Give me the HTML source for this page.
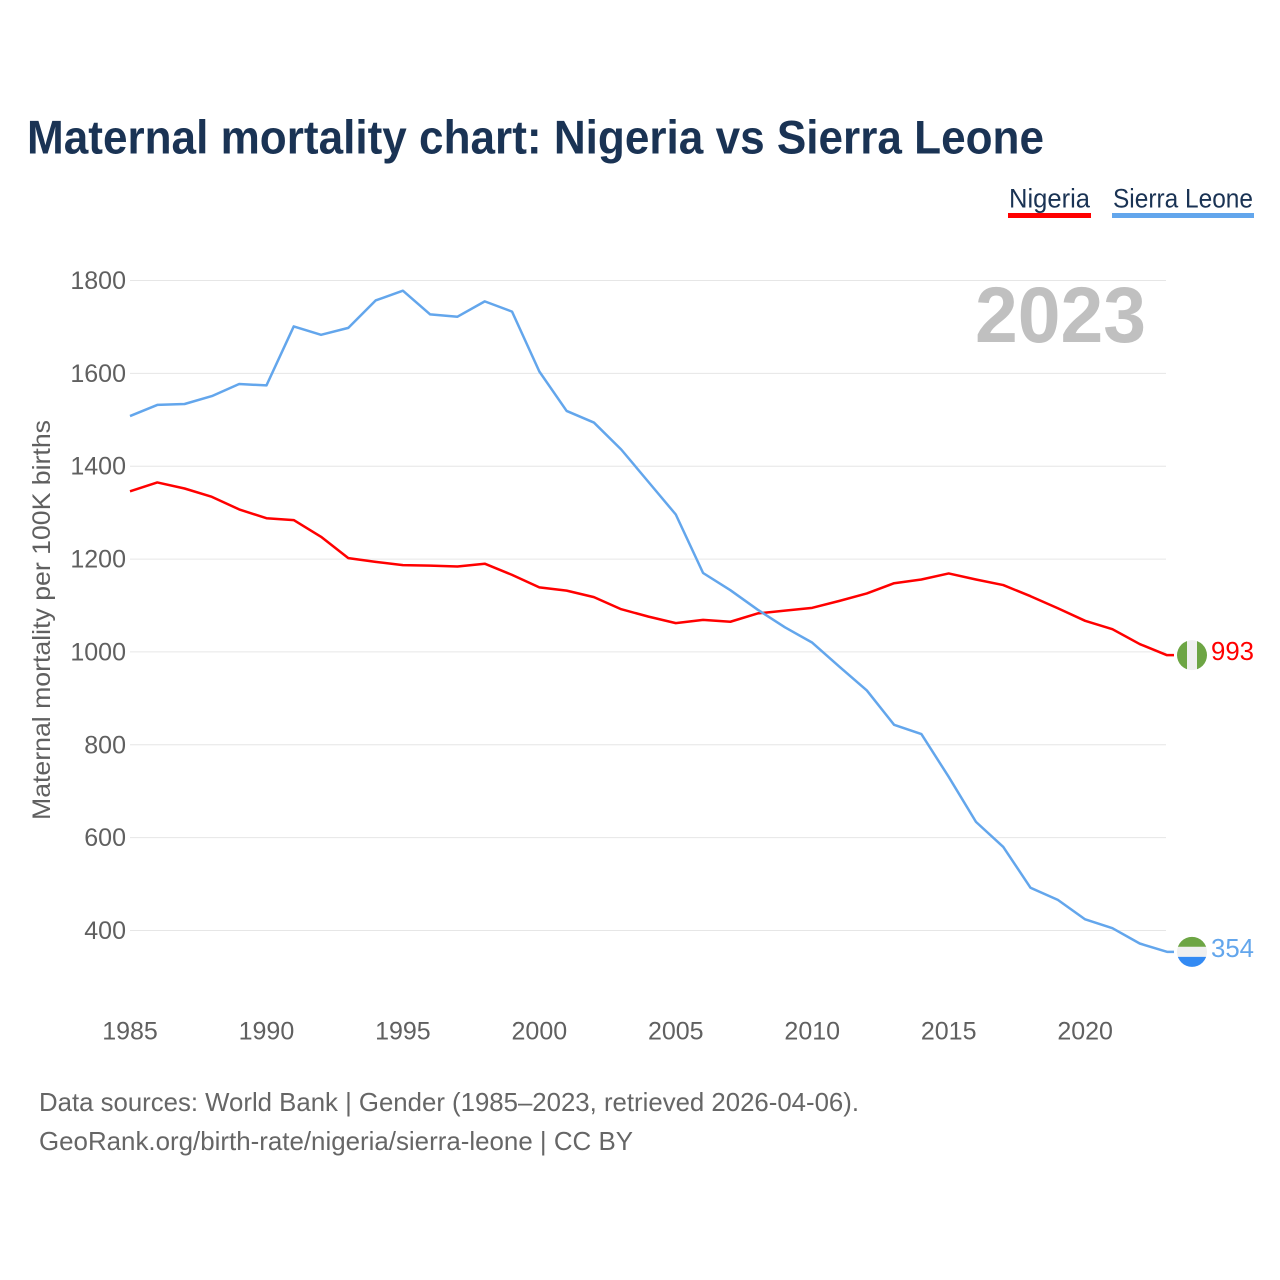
<!DOCTYPE html>
<html lang="en">
<head>
<meta charset="utf-8">
<title>Maternal mortality chart: Nigeria vs Sierra Leone</title>
<style>
html,body{margin:0;padding:0;background:#fff;}
svg{display:block;font-family:"Liberation Sans",sans-serif;}
</style>
</head>
<body>
<svg id="chart" xmlns="http://www.w3.org/2000/svg" width="1280" height="1280" viewBox="0 0 1280 1280">
  <rect x="0" y="0" width="1280" height="1280" fill="#ffffff"/>
  <text x="27" y="153.5" font-size="47" font-weight="700" fill="#1a3354" textLength="1017" lengthAdjust="spacingAndGlyphs">Maternal mortality chart: Nigeria vs Sierra Leone</text>

  <g>
    <text x="1009" y="207.5" font-size="27" fill="#1a3354" textLength="81" lengthAdjust="spacingAndGlyphs">Nigeria</text>
    <rect x="1008" y="213" width="83" height="5" fill="#ff0000"/>
    <text x="1113" y="207.5" font-size="27" fill="#1a3354" textLength="140" lengthAdjust="spacingAndGlyphs">Sierra Leone</text>
    <rect x="1112" y="213" width="142" height="5" fill="#63a6ec"/>
  </g>

  <g id="grid"></g>
  <g id="yticks"></g>
  <g id="xticks"></g>

  <text x="975" y="342" font-size="79" font-weight="700" fill="#c0c0c0" textLength="171" lengthAdjust="spacingAndGlyphs">2023</text>

  <text transform="translate(50,820) rotate(-90)" x="0" y="0" font-size="25" fill="#606060" textLength="400" lengthAdjust="spacingAndGlyphs">Maternal mortality per 100K births</text>

  <path id="line-nigeria" fill="none" stroke="#ff0000" stroke-width="2.5" stroke-linejoin="round"/>
  <path id="line-sierra-leone" fill="none" stroke="#63a6ec" stroke-width="2.5" stroke-linejoin="round"/>

  <defs>
    <clipPath id="clip-ng"><circle cx="1192" cy="0" r="15"/></clipPath>
    <clipPath id="clip-sl"><circle cx="1192" cy="0" r="15"/></clipPath>
  </defs>

  <g id="flag-nigeria">
    <g clip-path="url(#clip-ng)">
      <rect x="1176" y="-16" width="11" height="32" fill="#6da544"/>
      <rect x="1187" y="-16" width="10" height="32" fill="#f0f0f0"/>
      <rect x="1197" y="-16" width="11" height="32" fill="#6da544"/>
    </g>
  </g>
  <g id="flag-sierra-leone">
    <g clip-path="url(#clip-sl)">
      <rect x="1176" y="-16" width="32" height="11" fill="#6da544"/>
      <rect x="1176" y="-5" width="32" height="10" fill="#f0f0f0"/>
      <rect x="1176" y="5" width="32" height="11" fill="#338af3"/>
    </g>
  </g>

  <text id="value-nigeria" x="1211" font-size="26" fill="#ff0000" textLength="43" lengthAdjust="spacingAndGlyphs"></text>
  <text id="value-sierra-leone" x="1211" font-size="26" fill="#63a6ec" textLength="43" lengthAdjust="spacingAndGlyphs"></text>

  <text x="39" y="1111" font-size="26" fill="#666666" textLength="820" lengthAdjust="spacingAndGlyphs">Data sources: World Bank | Gender (1985–2023, retrieved 2026-04-06).</text>
  <text x="39" y="1150" font-size="26" fill="#666666" textLength="594" lengthAdjust="spacingAndGlyphs">GeoRank.org/birth-rate/nigeria/sierra-leone | CC BY</text>
</svg>

<script>
const years = [1985,1986,1987,1988,1989,1990,1991,1992,1993,1994,1995,1996,1997,1998,1999,2000,2001,2002,2003,2004,2005,2006,2007,2008,2009,2010,2011,2012,2013,2014,2015,2016,2017,2018,2019,2020,2021,2022,2023];
const nigeria = [1346,1365,1352,1334,1307,1288,1284,1248,1202,1194,1187,1186,1184,1190,1166,1139,1132,1118,1092,1076,1062,1069,1065,1083,1089,1095,1110,1126,1148,1156,1169,1156,1144,1120,1094,1067,1049,1017,993];
const sierraLeone = [1508,1532,1534,1551,1577,1574,1701,1683,1698,1757,1778,1727,1722,1755,1733,1604,1519,1494,1436,1366,1296,1170,1133,1091,1053,1020,968,917,843,823,731,634,580,492,466,424,405,372,354];
const yTicks = [400,600,800,1000,1200,1400,1600,1800];
const xTicks = [1985,1990,1995,2000,2005,2010,2015,2020];

const NS = 'http://www.w3.org/2000/svg';
function xScale(year) { return 130 + (year - 1985) * (1167 - 130) / (2023 - 1985); }
function yScale(value) { return 930.5 - (value - 400) * (930.5 - 280.5) / (1800 - 400); }

const gridGroup = document.getElementById('grid');
const yTickGroup = document.getElementById('yticks');
const xTickGroup = document.getElementById('xticks');

yTicks.forEach(function (tick) {
  const line = document.createElementNS(NS, 'line');
  
  
  line.setAttribute('x1', 130);
  line.setAttribute('x2', 1166);
  line.setAttribute('y1', yScale(tick));
  line.setAttribute('y2', yScale(tick));
  line.setAttribute('stroke', '#e6e6e6');
  line.setAttribute('stroke-width', '1');
  gridGroup.appendChild(line);

  const label = document.createElementNS(NS, 'text');
  
  
  label.setAttribute('x', 126);
  label.setAttribute('y', yScale(tick) + 8.5);
  label.setAttribute('text-anchor', 'end');
  label.setAttribute('font-size', '25');
  label.setAttribute('fill', '#606060');
  label.textContent = tick;
  yTickGroup.appendChild(label);
});

xTicks.forEach(function (tick) {
  const label = document.createElementNS(NS, 'text');
  
  
  label.setAttribute('x', xScale(tick));
  label.setAttribute('y', 1039.5);
  label.setAttribute('text-anchor', 'middle');
  label.setAttribute('font-size', '25');
  label.setAttribute('fill', '#606060');
  label.textContent = tick;
  xTickGroup.appendChild(label);
});

function linePath(values) {
  const parts = values.map(function (v, i) {
    return (i === 0 ? 'M' : 'L') + xScale(years[i]).toFixed(2) + ' ' + yScale(v).toFixed(2);
  });
  const last = values[values.length - 1];
  parts.push('L' + (xScale(years[years.length - 1]) + 7) + ' ' + yScale(last).toFixed(2));
  return parts.join(' ');
}

document.getElementById('line-nigeria').setAttribute('d', linePath(nigeria));
document.getElementById('line-sierra-leone').setAttribute('d', linePath(sierraLeone));

function placeEnd(values, flagId, valueId) {
  const last = values[values.length - 1];
  const y = yScale(last);
  document.getElementById(flagId).setAttribute('transform', 'translate(0,' + y.toFixed(2) + ')');
  const t = document.getElementById(valueId);
  t.setAttribute('y', (y + 5).toFixed(2));
  t.textContent = last;
}
placeEnd(nigeria, 'flag-nigeria', 'value-nigeria');
placeEnd(sierraLeone, 'flag-sierra-leone', 'value-sierra-leone');
</script>
</body>
</html>
